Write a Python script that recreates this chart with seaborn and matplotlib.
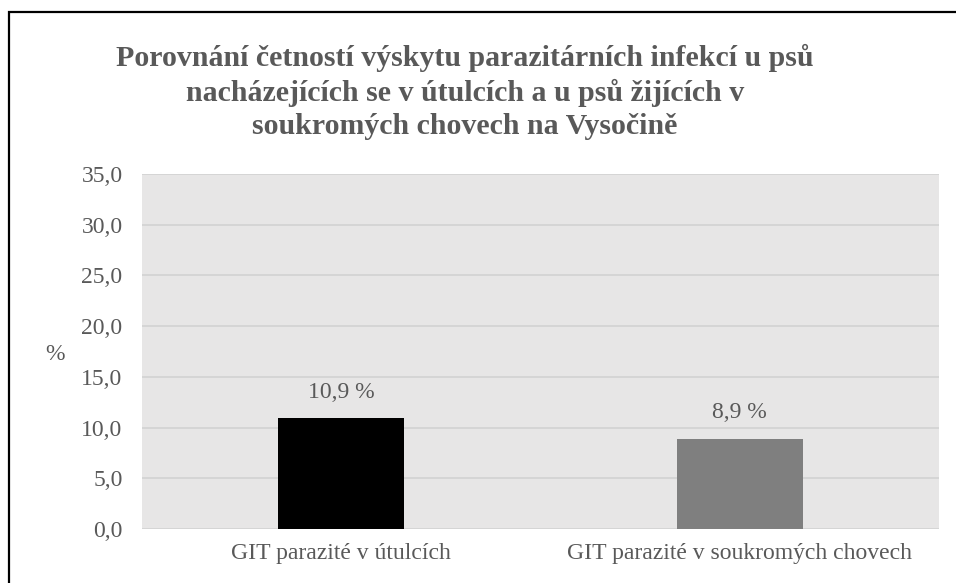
import matplotlib
matplotlib.use('Agg')
import matplotlib.pyplot as plt
import seaborn as sns
import pandas as pd
from matplotlib.patches import Rectangle
from matplotlib.ticker import FuncFormatter

# Data
categories = ['GIT parazité v útulcích', 'GIT parazité v soukromých chovech']
values = [10.9, 8.9]
bar_colors = ['#000000', '#7f7f7f']
title = ('Porovnání četností výskytu parazitárních infekcí u psů\n'
         'nacházejících se v útulcích a u psů žijících v\n'
         'soukromých chovech na Vysočině')

df = pd.DataFrame({'kategorie': categories, 'hodnota': values})

sns.set_style('white')
plt.rcParams['font.family'] = ['Liberation Serif', 'DejaVu Serif']
text_color = '#595959'

fig = plt.figure(figsize=(9.56, 5.83), dpi=100)
ax = fig.add_axes([142 / 956, 1 - 529 / 583, (939 - 142) / 956, (529 - 174) / 583])

sns.barplot(data=df, x='kategorie', y='hodnota', hue='kategorie',
            palette=bar_colors, width=0.316, saturation=1, legend=False,
            linewidth=0, ax=ax, zorder=3)

ax.set_facecolor('#e7e6e6')
ax.set_ylim(0, 35)
ax.set_yticks(range(0, 36, 5))
ax.yaxis.set_major_formatter(FuncFormatter(lambda v, p: f'{v:.1f}'.replace('.', ',')))
ax.grid(axis='y', color='#d4d4d4', linewidth=1.3, zorder=0)
ax.grid(axis='x', visible=False)
for s in ax.spines.values():
    s.set_visible(False)
ax.tick_params(axis='both', length=0, labelsize=17, labelcolor=text_color)
ax.tick_params(axis='y', pad=14)
ax.tick_params(axis='x', pad=10)
ax.set_xlabel('')
ax.set_ylabel('')

# bar labels
for cont in ax.containers:
    ax.bar_label(cont, labels=[f'{v:.1f} %'.replace('.', ',') for v in cont.datavalues],
                 padding=11, fontsize=17, color=text_color)

# "%" axis label
fig.text(55 / 956, 1 - 355 / 583, '%', fontsize=17, color=text_color,
         ha='center', va='center')

fig.text(0.5 - 13 / 956, 1 - 92 / 583, title, fontsize=21.5, fontweight='bold',
         color=text_color, ha='center', va='center', linespacing=1.28)

# frame around chart (cut at right/bottom)
fig.patches.append(Rectangle((8.5 / 956, -0.05), 1.0, 1 - 11.5 / 583 + 0.05,
                             transform=fig.transFigure, fill=False,
                             edgecolor='black', linewidth=1.6))

fig.savefig('out.png', dpi=100)
